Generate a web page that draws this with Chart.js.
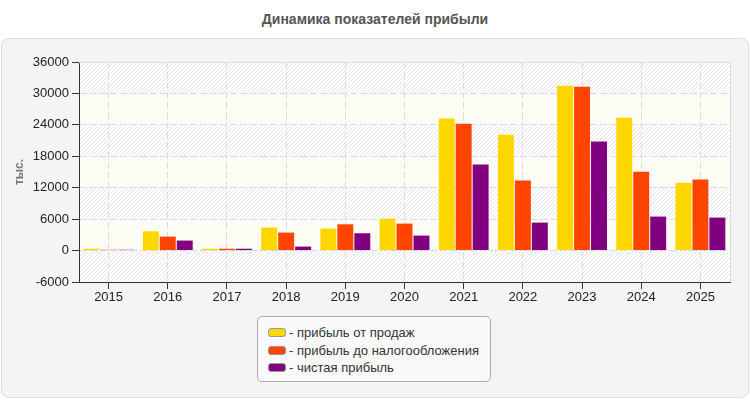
<!DOCTYPE html>
<html>
<head>
<meta charset="utf-8">
<script src="https://cdn.jsdelivr.net/npm/chart.js"></script>
<style>
  body { margin: 0; width: 750px; height: 400px; background: #fff; font-family: "Liberation Sans", Arial, sans-serif; position: relative; overflow: hidden; }
  #title { position: absolute; left: 0; top: 11px; width: 750px; text-align: center; font-weight: bold; font-size: 14px; color: #555; }
  #panel { position: absolute; left: 1px; top: 38px; width: 746px; height: 358px; background: #f4f4f4; border: 1px solid #ddd; border-radius: 8px; }
  #chart { position: absolute; left: 0; top: 0; }
  #legend { position: absolute; left: 257px; top: 316px; width: 234px; height: 66px; background: #f9f9f9; border: 1px solid #aaa; border-radius: 5px; box-sizing: border-box; padding: 7px 0 0 10px; }
  .item { height: 17.5px; font-size: 13px; color: #333; display: flex; align-items: center; }
  .sw { width: 16px; height: 7px; border: 1px solid #999; border-radius: 3px; margin-right: 3px; }
</style>
</head>
<body>
<div id="title">Динамика показателей прибыли</div>
<div id="panel"></div>
<canvas id="chart" width="750" height="400"></canvas>
<div id="legend"></div>
<script>
let years = ["2015","2016","2017","2018","2019","2020","2021","2022","2023","2024","2025"]
let salesProfit = [350, 3690, 350, 4390, 4200, 6100, 25190, 22130, 31480, 25380, 12970]
let pretaxProfit = [150, 2670, 350, 3430, 5020, 5150, 24230, 13360, 31290, 15070, 13550]
let netProfit = [150, 1910, 350, 760, 3310, 2860, 16410, 5340, 20800, 6490, 6300]
let seriesNames = ["прибыль от продаж", "прибыль до налогообложения", "чистая прибыль"]
let seriesColors = ["#FFD700", "#FF4500", "#800080"]

// legend in html
let legend = document.getElementById("legend")
seriesNames.forEach(function (name, i) {
  legend.innerHTML += '<div class="item"><span class="sw" style="background:' + seriesColors[i] + '"></span>- ' + name + '</div>'
})

// hatched pattern for background bands
let pc = document.createElement("canvas")
pc.width = 4; pc.height = 4
let px = pc.getContext("2d")
px.fillStyle = "#fff"
px.fillRect(0, 0, 4, 4)
px.strokeStyle = "#e6e6e6"
px.lineWidth = 1
px.beginPath()
px.moveTo(0, 4); px.lineTo(4, 0)
px.moveTo(-1, 1); px.lineTo(1, -1)
px.moveTo(3, 5); px.lineTo(5, 3)
px.stroke()

let bands = {
  id: "bands",
  beforeDraw(chart) {
    let ctx = chart.ctx, a = chart.chartArea, y = chart.scales.y
    let hatch = ctx.createPattern(pc, "repeat")
    ctx.save()
    for (let v = -6000; v < 36000; v += 6000) {
      let top = y.getPixelForValue(v + 6000), bot = y.getPixelForValue(v)
      ctx.fillStyle = (v >= 0 && (v / 6000) % 2 === 0) ? "#fdfdf6" : hatch
      ctx.fillRect(a.left, top, a.right - a.left, bot - top)
    }
    ctx.restore()
  },
  afterDraw(chart) {
    let ctx = chart.ctx, a = chart.chartArea
    ctx.save()
    ctx.strokeStyle = "#dcdcdc"
    ctx.lineWidth = 1
    ctx.beginPath()
    ctx.moveTo(a.left, a.top + 0.5); ctx.lineTo(a.right + 0.5, a.top + 0.5)
    ctx.lineTo(a.right + 0.5, a.bottom)
    ctx.stroke()
    ctx.restore()
  }
}

let ctx = document.getElementById("chart").getContext("2d")
new Chart(ctx, {
  type: "bar",
  data: {
    labels: years,
    datasets: [
      { label: seriesNames[0], data: salesProfit, backgroundColor: seriesColors[0] },
      { label: seriesNames[1], data: pretaxProfit, backgroundColor: seriesColors[1] },
      { label: seriesNames[2], data: netProfit, backgroundColor: seriesColors[2] }
    ]
  },
  options: {
    responsive: false,
    animation: false,
    layout: { padding: { left: 0, top: 62, right: 20, bottom: 88 } },
    datasets: { bar: { categoryPercentage: 0.86, barPercentage: 0.94 } },
    plugins: { legend: { display: false }, tooltip: { enabled: false } },
    scales: {
      x: {
        afterFit(s) { s.height = 30 },
        grid: { offset: false, color: "#dcdcdc", tickColor: "#333", tickLength: 7, tickBorderDash: [] },
        border: { color: "#333", width: 1, dash: [7, 3] },
        ticks: { color: "#222", font: { family: "Liberation Sans", size: 13 }, padding: 1 }
      },
      y: {
        min: -6000, max: 36000,
        afterFit(s) { s.width = 79 },
        grid: { color: "#dcdcdc", tickColor: "#333", tickLength: 7, tickBorderDash: [] },
        border: { color: "#333", width: 1, dash: [7, 3] },
        ticks: { stepSize: 6000, color: "#222", font: { family: "Liberation Sans", size: 13 }, padding: 3,
          callback: function (v) { return String(v) } },
        title: { display: true, text: "тыс.", color: "#777", font: { family: "Liberation Sans", size: 12, weight: "bold" }, padding: { top: 12, bottom: 4 } }
      }
    }
  },
  plugins: [bands]
})
</script>
</body>
</html>
